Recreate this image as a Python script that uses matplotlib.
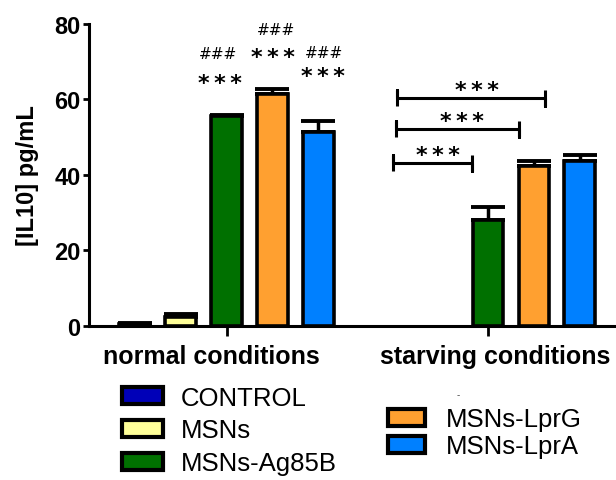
import numpy as np
import matplotlib.pyplot as plt
import matplotlib.transforms as mtransforms
from matplotlib.patches import Patch

plt.rcParams['font.family'] = ['Liberation Sans', 'DejaVu Sans']

groups = ['CONTROL', 'MSNs', 'MSNs-Ag85B', 'MSNs-LprG', 'MSNs-LprA']
colors = ['#0000b8', '#ffff99', '#007000', '#ffa030', '#0080ff']
conditions = ['normal conditions', 'starving conditions']

normal_vals = [0.5, 2.5, 55.5, 61.5, 51.5]
normal_err = [0.3, 0.8, 0.5, 1.2, 2.8]
# CONTROL and MSNs have no bar under starving conditions
starving_vals = [None, None, 28.0, 42.3, 43.8]
starving_err = [None, None, 3.5, 1.3, 1.4]

STARS = '*\u2009*\u2009*'
# marks above normal bars: (x, text, baseline value)
hash_marks = [(1.82, '###', 71.0), (3.08, '###', 77.3), (4.12, '###', 71.2)]
star_marks = [(1.86, STARS, 62.8), (3.01, STARS, 69.7), (4.10, STARS, 64.6)]
# starving comparisons: (x start, x end, y, star x)
brackets = [(5.62, 7.34, 43.1, 6.6), (5.68, 8.36, 52.2, 7.12), (5.71, 8.92, 60.4, 7.44)]

group_offset = [0.0, 5.68]
bar_w = 0.66

fig = plt.figure(figsize=(6.16, 4.81), dpi=100)
ax = fig.add_axes([0.1445, 0.3202, 0.8555, 0.628])

for c, (vals, errs) in enumerate([(normal_vals, normal_err), (starving_vals, starving_err)]):
    for i in range(len(groups)):
        if vals[i] is None:
            continue
        x = group_offset[c] + i
        ax.errorbar(x, vals[i], yerr=[[0], [errs[i]]], fmt='none', ecolor='black',
                    elinewidth=2.5, capsize=12, capthick=2.8, zorder=2)
        ax.bar(x, vals[i], width=bar_w, color=colors[i], edgecolor='black',
               linewidth=2.6, zorder=3)

for x, txt, y in hash_marks:
    ax.text(x, y, txt, ha='center', va='baseline', fontsize=11,
            family='DejaVu Sans', zorder=4)
for x, txt, y in star_marks:
    ax.text(x, y, txt, ha='center', va='baseline', fontsize=16,
            family='DejaVu Sans', fontweight='bold', zorder=4)

for x0, x1, y, xs in brackets:
    ax.plot([x0, x0, x0, x0, x1, x1, x1], [y - 2.1, y + 2.1, y, y, y, y - 2.1, y + 2.1],
            color='black', lw=2.2, solid_capstyle='butt')
    ax.text(xs, y + 0.6, STARS, ha='center', va='baseline', fontsize=16,
            family='DejaVu Sans', fontweight='bold')

ax.set_xlim(-0.99, 10.47)
ax.set_ylim(0, 80)
ax.set_yticks([0, 20, 40, 60, 80])
ax.set_xticks([g + 2 for g in group_offset])
ax.set_xticklabels(conditions, fontsize=18, fontweight='bold')
ax.tick_params(axis='y', labelsize=17, width=2, length=4.5, direction='out', pad=1.5)
ax.tick_params(axis='x', width=2, length=7, direction='out', pad=6)
for lab in ax.get_yticklabels():
    lab.set_fontweight('bold')
# labels sit slightly off their ticks in the original
for lab, dx in zip(ax.get_xticklabels(), [-15, 7]):
    lab.set_transform(lab.get_transform() +
                      mtransforms.ScaledTranslation(dx / 100, 0, fig.dpi_scale_trans))
ax.set_ylabel('[IL10] pg/mL', fontsize=17, fontweight='bold', labelpad=11)

ax.spines['top'].set_visible(False)
ax.spines['right'].set_visible(False)
ax.spines['left'].set_linewidth(2.2)
ax.spines['bottom'].set_linewidth(2.2)
ax.spines['left'].set_zorder(5)

handles = [Patch(facecolor=colors[i], edgecolor='black', linewidth=3) for i in range(5)]
leg1 = fig.legend(handles[:3], groups[:3], loc='upper left', bbox_to_anchor=(0.198, 0.196),
                  frameon=False, fontsize=18.5, handlelength=1.6, handleheight=0.65,
                  handletextpad=0.7, labelspacing=0.34, borderaxespad=0, borderpad=0)
leg2 = fig.legend(handles[3:], groups[3:], loc='upper left', bbox_to_anchor=(0.63, 0.151),
                  frameon=False, fontsize=18.5, handlelength=1.45, handleheight=0.65,
                  handletextpad=0.8, labelspacing=0.11, borderaxespad=0, borderpad=0)
fig.text(0.744, 1 - 395 / 481, '-', fontsize=7, color='#444444', ha='center', va='center')

fig.savefig('out.png', dpi=100)
